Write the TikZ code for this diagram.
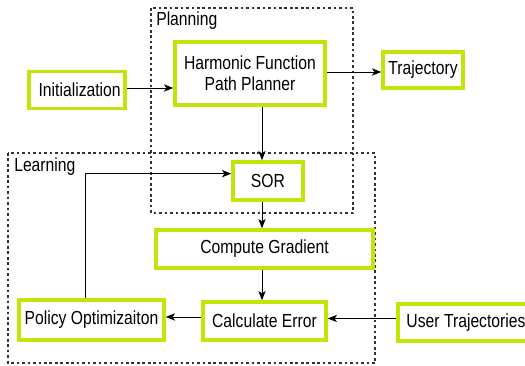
\documentclass[tikz,border=0pt]{standalone}
\usepackage{fontspec}
\setmainfont{Liberation Sans}
\newfontfamily\labfont[FakeStretch=0.83]{Liberation Sans}
\usetikzlibrary{arrows.meta}
\definecolor{lime}{RGB}{194,228,10}
\definecolor{dotgray}{RGB}{45,52,52}
\begin{document}
\begin{tikzpicture}[x=0.75pt,y=-0.75pt,
  gbox/.style={draw=lime,line width=2.7pt,fill=white,inner sep=0pt,align=center,
    font=\labfont\fontsize{14.2}{15.75}\selectfont},
  grp/.style={draw=dotgray,line width=2.1pt,dash pattern=on 2pt off 2.1pt},
  lbl/.style={font=\labfont\fontsize{14.2}{15}\selectfont,anchor=west,inner sep=0pt},
  arr/.style={-{Stealth[length=7pt,width=5.5pt,inset=2pt]},line width=0.6pt,black}]
\clip (0,0) rectangle (525,366);
\fill[white] (0,0) rectangle (525,366);
% group boxes
\draw[grp] (151,8) rectangle (353,213);
\draw[grp] (8,153) rectangle (375,363);
\node[lbl] (plab) at (156,21) {Planning};
\node[lbl] (llab) at (14,167) {Learning};
% boxes
\node[gbox,minimum width=96*0.75pt,minimum height=37*0.75pt] (init) at (77,90) {\hspace{4pt}Initialization};
\node[gbox,minimum width=150*0.75pt,minimum height=63*0.75pt] (hfpp) at (250,73.5) {Harmonic Function\\Path Planner};
\node[gbox,minimum width=80*0.75pt,minimum height=36*0.75pt] (traj) at (423,70) {Trajectory};
\node[gbox,minimum width=70*0.75pt,minimum height=38*0.75pt] (sor) at (268,181) {SOR};
\node[gbox,minimum width=217*0.75pt,minimum height=38*0.75pt] (cg) at (264.5,249) {Compute Gradient};
\node[gbox,minimum width=123*0.75pt,minimum height=38*0.75pt] (ce) at (264.5,321) {Calculate Error};
\node[gbox,minimum width=145*0.75pt,minimum height=40*0.75pt] (po) at (91.5,320) {Policy Optimizaiton};
\node[gbox,minimum width=136*0.75pt,minimum height=37*0.75pt] (ut) at (466,322.5) {User Trajectories};
% connectors
\coordinate (cx) at (262,0);
\draw[arr] ([yshift=1.5pt]init.east) -- ([yshift=1.5pt]init.east -| hfpp.west);
\draw[arr] ([yshift=-1.5pt]hfpp.east |- traj.west) -- ([yshift=-1.5pt]traj.west);
\draw[arr] (hfpp.south -| cx) -- (sor.north -| cx);
\draw[arr] (sor.south -| cx) -- (cg.north -| cx);
\draw[arr] (cg.south -| cx) -- (ce.north -| cx);
\draw[arr] ([yshift=3pt]ut.west) -- ([yshift=3pt]ut.west -| ce.east);
\draw[arr] ([yshift=3pt]ce.west) -- ([yshift=3pt]ce.west -| po.east);
\draw[arr] ([xshift=-6.5*0.75pt]po.north) |- ([yshift=5.5pt]sor.west);
\end{tikzpicture}
\end{document}
